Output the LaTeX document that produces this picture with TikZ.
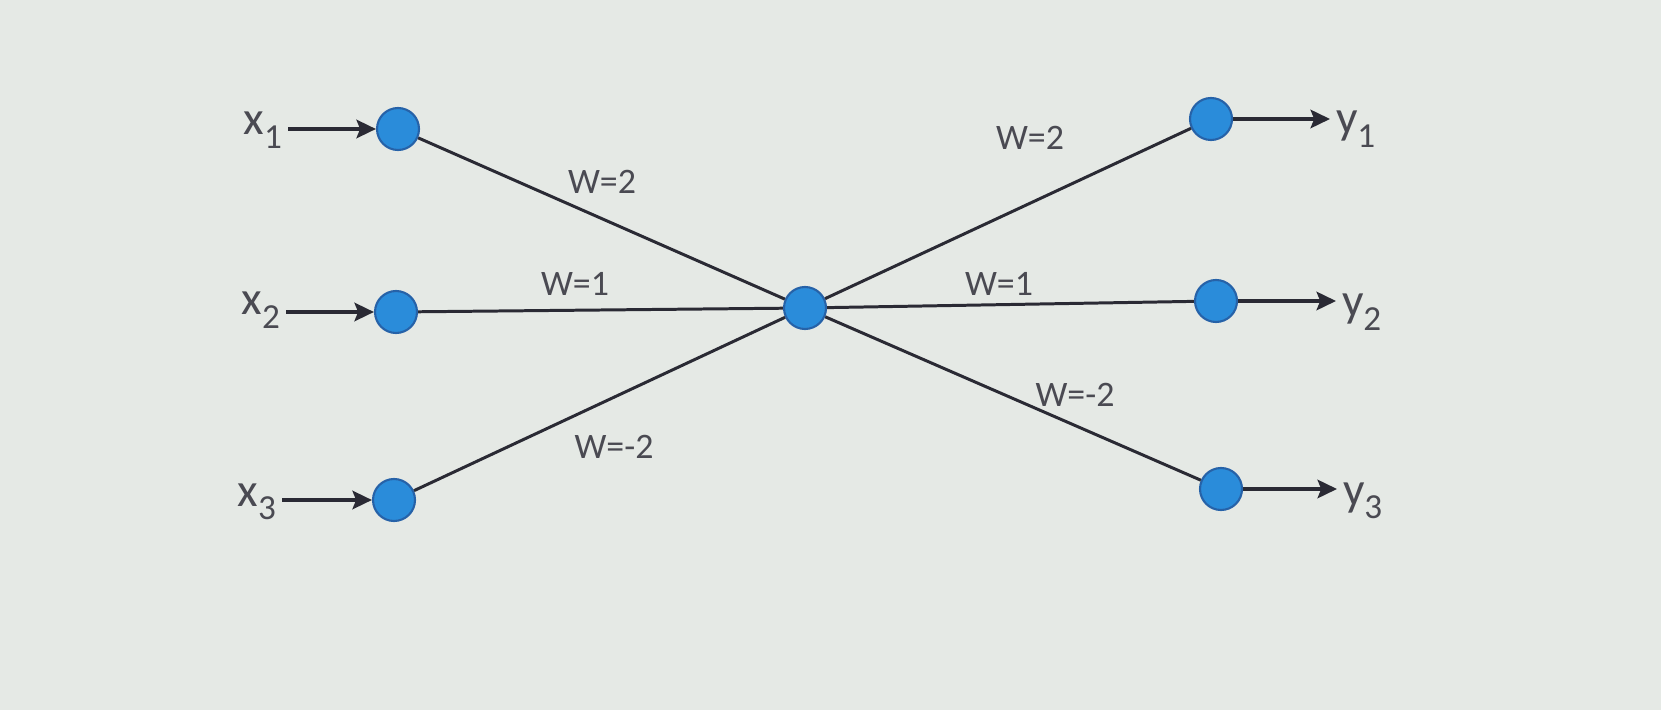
\documentclass[tikz,border=0pt]{standalone}
\usepackage{fontspec}
\setmainfont{Carlito}
\usepackage{xcolor}
\usetikzlibrary{arrows.meta}

\definecolor{screen}{RGB}{229,233,229}
\definecolor{nodeblue}{RGB}{42,140,218}
\definecolor{nodeedge}{RGB}{38,98,168}
\definecolor{ink}{RGB}{42,42,52}

\newcommand{\sub}[2]{#1\raisebox{-0.6ex}{\fontsize{10}{10}\selectfont #2}}

\tikzset{
    neuron/.style={circle, fill=nodeblue, draw=nodeedge, line width=0.6pt, minimum size=0.42cm, inner sep=0pt},
    link/.style={ink, line width=0.85pt},
    feed/.style={ink, line width=1.4pt, -{Stealth[length=5.5pt,width=5.2pt,inset=1pt]}},
    varname/.style={text=ink!85, font=\fontsize{13.5}{14}\selectfont, inner sep=1.5pt},
    wlabel/.style={text=ink!85, font=\fontsize{10.2}{11}\selectfont, inner sep=1pt}
}

\begin{document}
\begin{tikzpicture}
    \fill[screen] (0,0) rectangle (16.61,7.10);
    \useasboundingbox (0,0) rectangle (16.61,7.10);

    % neurons
    \node[neuron] (in1) at (3.98,5.81) {};
    \node[neuron] (in2) at (3.96,3.98) {};
    \node[neuron] (in3) at (3.94,2.10) {};
    \node[neuron] (hid) at (8.05,4.02) {};
    \node[neuron] (out1) at (12.11,5.91) {};
    \node[neuron] (out2) at (12.16,4.09) {};
    \node[neuron] (out3) at (12.21,2.21) {};

    % inputs and outputs
    \node[varname, anchor=base east] (x1) at (2.88,5.75) {\sub{x}{1}};
    \node[varname, anchor=base east] (x2) at (2.86,3.95) {\sub{x}{2}};
    \node[varname, anchor=base east] (x3) at (2.82,2.04) {\sub{x}{3}};
    \node[varname, anchor=base west] (y1) at (13.30,5.76) {\sub{y}{1}};
    \node[varname, anchor=base west] (y2) at (13.36,3.93) {\sub{y}{2}};
    \node[varname, anchor=base west] (y3) at (13.37,2.05) {\sub{y}{3}};

    \draw[feed] (x1.east |- in1) -- (in1);
    \draw[feed] (x2.east |- in2) -- (in2);
    \draw[feed] (x3.east |- in3) -- (in3);
    \draw[feed] (out1) -- (y1.west |- out1);
    \draw[feed] (out2) -- (y2.west |- out2);
    \draw[feed] (out3) -- (y3.west |- out3);

    % weights
    \draw[link] (in1) -- (hid);
    \draw[link] (in2) -- (hid);
    \draw[link] (in3) -- (hid);
    \draw[link] (hid) -- (out1);
    \draw[link] (hid) -- (out2);
    \draw[link] (hid) -- (out3);

    \node[wlabel] (w11) at (6.02,5.28) {W=2};
    \node[wlabel] (w21) at (5.75,4.26) {W=1};
    \node[wlabel] (w31) at (6.14,2.63) {W=-2};
    \node[wlabel] (w12) at (10.30,5.72) {W=2};
    \node[wlabel] (w22) at (9.99,4.26) {W=1};
    \node[wlabel] (w32) at (10.75,3.15) {W=-2};
\end{tikzpicture}
\end{document}
